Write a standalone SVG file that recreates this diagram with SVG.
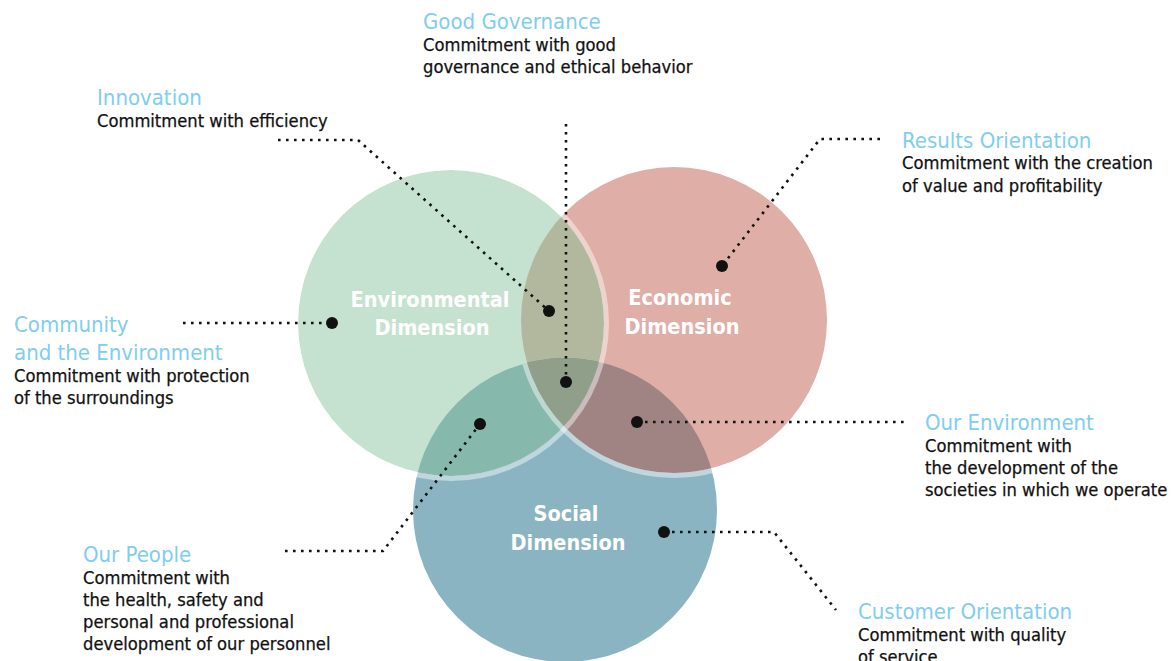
<svg xmlns="http://www.w3.org/2000/svg" width="1174" height="661" viewBox="0 0 1174 661">
<style>
text{font-family:"DejaVu Sans Condensed","DejaVu Sans",sans-serif;font-stretch:condensed}
.t{fill:#80cdef;font-size:22px}
.b{fill:#111;font-size:18.2px;stroke:#111;stroke-width:0.25}
.c{fill:#fff;font-size:21.5px;font-weight:bold;text-anchor:middle}
.dl{fill:none;stroke:#111;stroke-width:2.6;stroke-dasharray:2.6 5.4}
.dot{fill:#111}
.ring{fill:none;stroke:#fff;stroke-opacity:0.45;stroke-width:5}
</style>
<defs>
<clipPath id="cg"><circle cx="451" cy="323" r="153"/></clipPath>
<clipPath id="cr"><circle cx="674" cy="320" r="153"/></clipPath>
<clipPath id="cb"><circle cx="565" cy="510" r="152"/></clipPath>
<clipPath id="cgr" clip-path="url(#cg)"><circle cx="674" cy="320" r="153"/></clipPath>
</defs>
<rect width="1174" height="661" fill="#fff"/>
<g id="circles">
<circle cx="565" cy="510" r="152" fill="#8ab4c1"/>
<circle cx="674" cy="320" r="153" fill="#dfaea6"/>
<circle cx="451" cy="323" r="153" fill="#c5e2d1"/>
<circle cx="674" cy="320" r="153" fill="#b2b89e" clip-path="url(#cg)"/>
<circle cx="565" cy="510" r="152" fill="#86b9ab" clip-path="url(#cg)"/>
<circle cx="565" cy="510" r="152" fill="#a08383" clip-path="url(#cr)"/>
<circle cx="565" cy="510" r="152" fill="#909f8a" clip-path="url(#cgr)"/>
<circle class="ring" cx="674" cy="320" r="155.5" clip-path="url(#cb)"/>
<circle class="ring" cx="451" cy="323" r="155.5"/>
</g>
<g id="env-dim"><text class="c" x="430" y="307">Environmental</text><text class="c" x="432" y="335">Dimension</text></g>
<g id="eco-dim"><text class="c" x="680" y="305">Economic</text><text class="c" x="682" y="334">Dimension</text></g>
<g id="soc-dim"><text class="c" x="566" y="521">Social</text><text class="c" x="568" y="550">Dimension</text></g>
<g id="connectors">
<polyline class="dl" points="278,140 358,140 549,311"/>
<polyline class="dl" points="566,124 566,382"/>
<polyline class="dl" points="880,139 820,139 722,266"/>
<polyline class="dl" points="183,323 332,323"/>
<polyline class="dl" points="637,422 905,422"/>
<polyline class="dl" points="285,551 383,551 480,424"/>
<polyline class="dl" points="664,532 774,532 836,610"/>
<circle class="dot" cx="549" cy="311" r="6"/>
<circle class="dot" cx="566" cy="382" r="6"/>
<circle class="dot" cx="722" cy="266" r="6"/>
<circle class="dot" cx="332" cy="323" r="6"/>
<circle class="dot" cx="637" cy="422" r="6"/>
<circle class="dot" cx="480" cy="424" r="6"/>
<circle class="dot" cx="664" cy="532" r="6"/>
</g>
<g id="good-governance"><text class="t" x="423" y="29">Good Governance</text><text class="b" x="423" y="51">Commitment with good</text><text class="b" x="423" y="73">governance and ethical behavior</text></g>
<g id="innovation"><text class="t" x="97" y="105">Innovation</text><text class="b" x="97" y="127">Commitment with efficiency</text></g>
<g id="results-orientation"><text class="t" x="902" y="148">Results Orientation</text><text class="b" x="902" y="169">Commitment with the creation</text><text class="b" x="902" y="192">of value and profitability</text></g>
<g id="community"><text class="t" x="14" y="332">Community</text><text class="t" x="14" y="360">and the Environment</text><text class="b" x="14" y="382">Commitment with protection</text><text class="b" x="14" y="404">of the surroundings</text></g>
<g id="our-environment"><text class="t" x="925" y="430">Our Environment</text><text class="b" x="925" y="452">Commitment with</text><text class="b" x="925" y="474">the development of the</text><text class="b" x="925" y="496">societies in which we operate</text></g>
<g id="our-people"><text class="t" x="83" y="562">Our People</text><text class="b" x="83" y="584">Commitment with</text><text class="b" x="83" y="606">the health, safety and</text><text class="b" x="83" y="628">personal and professional</text><text class="b" x="83" y="650">development of our personnel</text></g>
<g id="customer-orientation"><text class="t" x="858" y="619">Customer Orientation</text><text class="b" x="858" y="641">Commitment with quality</text><text class="b" x="858" y="663">of service</text></g>
</svg>
